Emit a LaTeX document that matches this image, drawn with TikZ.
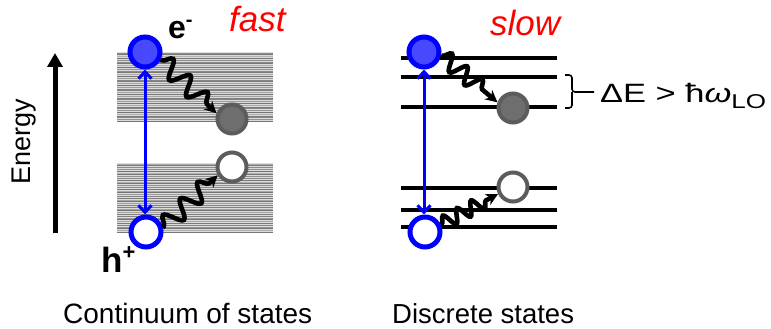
\documentclass[tikz,border=0pt]{standalone}
\usepackage{fontspec}
\setmainfont{Liberation Sans}
\usetikzlibrary{arrows.meta,decorations.pathmorphing}
\definecolor{eblue}{HTML}{4848FF}
\definecolor{pblue}{HTML}{0000FF}
\definecolor{dgrey}{HTML}{6E6E6E}
\definecolor{dgreyb}{HTML}{5C5C5C}
\definecolor{lred}{HTML}{FF0000}
\tikzset{
  fs/.style={font=\fontsize{#1}{#1}\selectfont},
  elec/.style={circle, draw=pblue, fill=eblue, line width=5pt, minimum size=30pt, inner sep=0pt},
  hole/.style={circle, draw=pblue, fill=white, line width=5pt, minimum size=30pt, inner sep=0pt},
  gfull/.style={circle, draw=dgreyb, fill=dgrey, line width=4pt, minimum size=29pt, inner sep=0pt},
  gempty/.style={circle, draw=dgreyb, fill=white, line width=4pt, minimum size=29pt, inner sep=0pt},
  barrow/.style={draw=pblue, line width=3pt, {Straight Barb[length=7pt,width=13pt]}-{Straight Barb[length=7pt,width=13pt]}},
  wavy/.style={line width=4.6pt, -{Stealth[length=12pt,width=12pt]}, decorate,
    decoration={snake, amplitude=#1, segment length=24pt, pre length=1pt, post length=10pt}},
  level/.style={line width=4.6pt},
  stripe/.style={line width=0.8pt}
}
\begin{document}
\begin{tikzpicture}[x=1pt,y=-1pt]
\useasboundingbox (0,0) rectangle (771,329);

% Energy axis
\draw[line width=5pt, -{Triangle[length=14pt,width=15pt]}] (55,233) -- (55,53);
\node[fs=27, rotate=90] (energy) at (24,142) {Energy};

% Continuum bands
\foreach \ya/\yb in {52/122, 163/233}{
  \fill[black!14] (117,\ya) rectangle (273,\yb);
  \foreach \k in {0,...,38}{
    \pgfmathsetmacro\yy{\ya+1+\k*1.8}
    \pgfmathsetmacro\sh{int(30+25*abs(sin(\k*73+\ya*11)))}
    \ifdim\yy pt<\yb pt
      \draw[stripe, black!\sh] (117,\yy) -- (273,\yy);
    \fi
  }
}

% Discrete levels
\foreach \yy in {58,77,107,188,210,227}{
  \draw[level] (401,\yy) -- (557,\yy);
}

% Left panel particles
\node[elec] (e1) at (145,52) {};
\node[hole] (h1) at (146,232) {};
\node[gfull] (g1) at (232,119) {};
\node[gempty] (w1) at (232,167) {};

% Right panel particles
\node[elec] (e2) at (424,52) {};
\node[hole] (h2) at (425,232) {};
\node[gfull] (g2) at (513,108) {};
\node[gempty] (w2) at (513,187) {};

% Blue double arrows
\draw[barrow] (e1.south) -- (e1.south |- h1.north);
\draw[barrow] (e2.south) -- (e2.south |- h2.north);

% Wavy relaxation arrows
\draw[wavy=9pt] (e1.-25) -- (g1.160);
\draw[wavy=9pt] (h1.15) -- (w1.-150);
\draw[wavy=8pt, decoration={segment length=20pt}] (e2.-10) -- (g2.160);
\draw[wavy=7pt, decoration={segment length=16pt}] (h2.25) -- (w2.-155);

% Brace
\draw[line width=1.6pt, rounded corners=3pt] (565,75) -- (572,75) -- (572,92) -- (594,92);
\draw[line width=1.6pt, rounded corners=3pt] (565,108) -- (572,108) -- (572,92);
\node[anchor=base west, inner sep=0pt] (de) at (600,102)
  {\scalebox{1.3}[1]{\fontsize{26.5}{26.5}\selectfont ΔE > ħ\textit{ω}\raisebox{-6pt}{\fontsize{20}{20}\selectfont LO}}};

% Labels
\node[font=\bfseries\fontsize{32}{32}\selectfont, anchor=base west, inner sep=0pt] (elab) at (168,39) {e\raisebox{12pt}{\fontsize{20}{20}\selectfont -}};
\node[font=\bfseries\fontsize{35}{35}\selectfont, anchor=base west, inner sep=0pt] (hlab) at (101,272) {h\raisebox{13pt}{\fontsize{22}{22}\selectfont +}};
\node[font=\itshape\fontsize{35}{35}\selectfont, text=lred, anchor=base west, inner sep=0pt] (fast) at (229,32) {fast};
\node[font=\itshape\fontsize{35}{35}\selectfont, text=lred, anchor=base west, inner sep=0pt] (slow) at (490,36) {slow};
\node[fs=28, anchor=base west, inner sep=0pt] (cont) at (63,323) {Continuum of states};
\node[fs=27.5, anchor=base west, inner sep=0pt] (disc) at (392,323) {Discrete states};
\end{tikzpicture}
\end{document}
